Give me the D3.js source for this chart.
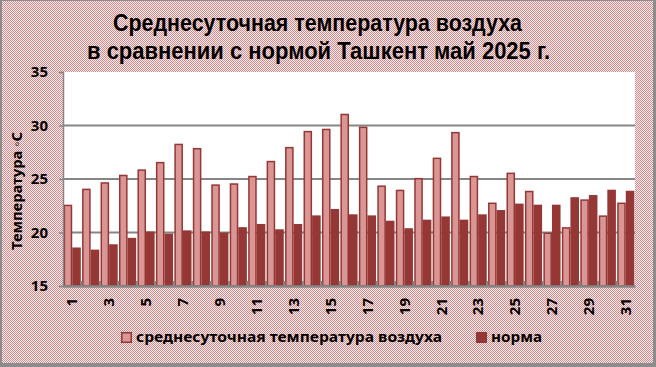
<!DOCTYPE html>
<html><head><meta charset="utf-8">
<script src="https://cdn.jsdelivr.net/npm/d3@7"></script>
<style>html,body{margin:0;padding:0;background:#fff}svg{display:block}</style>
</head><body><svg id="c" width="656" height="367"></svg>
<script>
const days = d3.range(1, 32).map(String);
const actual = [22.6,24.1,24.7,25.4,25.9,26.6,28.3,27.9,24.5,24.6,25.3,26.7,28.0,29.5,29.7,31.1,29.9,24.4,24.0,25.1,27.0,29.4,25.3,22.8,25.6,23.9,20.0,20.5,23.1,21.6,22.8];
const norm = [18.6,18.4,18.9,19.5,20.1,19.9,20.2,20.1,20.0,20.5,20.8,20.3,20.8,21.6,22.2,21.7,21.6,21.1,20.4,21.2,21.5,21.2,21.7,22.1,22.7,22.6,22.6,23.3,23.5,24.0,23.9];
const series = ["среднесуточная температура воздуха", "норма"];
const yTicks = [15, 20, 25, 30, 35];
const titleLines = ["Среднесуточная температура воздуха", "в сравнении с нормой Ташкент май 2025 г."];
const yTitle = "Температура ◦С";

const svg = d3.select("#c");
const font = "'Noto Sans', 'Open Sans', sans-serif";
const tfont = "'Liberation Sans', Arial, sans-serif";
const defs = svg.append("defs");
const pat = defs.append("pattern").attr("id","bg").attr("width",2).attr("height",2).attr("patternUnits","userSpaceOnUse");
pat.append("rect").attr("width",2).attr("height",2).attr("fill","#fbeeee");
pat.append("rect").attr("width",1).attr("height",1).attr("fill","#d6898a");
pat.append("rect").attr("x",1).attr("y",1).attr("width",1).attr("height",1).attr("fill","#d6898a");

svg.append("rect").attr("width",656).attr("height",367).attr("fill","url(#bg)");
// frame
svg.append("rect").attr("x",0).attr("y",0).attr("width",2).attr("height",367).attr("fill","#8c8c8c");
svg.append("rect").attr("x",0).attr("y",363).attr("width",656).attr("height",4).attr("fill","#8c8c8c");
svg.append("rect").attr("x",653).attr("y",0).attr("width",3).attr("height",367).attr("fill","#8c8c8c");
svg.append("rect").attr("x",0).attr("y",0).attr("width",656).attr("height",1).attr("fill","#8c8c8c");

const L = 63, R = 635, T = 72, B = 286;
const x = d3.scaleBand().domain(days).range([L, R]).paddingInner(0.07).paddingOuter(0.035);
const xs = d3.scaleBand().domain(series).range([0, x.bandwidth()]);
const y = d3.scaleLinear().domain([15, 35]).range([B, T]);

svg.append("rect").attr("x",L).attr("y",T).attr("width",R-L).attr("height",B-T).attr("fill","#fff");

// gridlines
svg.append("g").selectAll("line").data(yTicks.filter(t => t > 15 && t < 35)).join("line")
  .attr("x1",L).attr("x2",R).attr("y1",d=>y(d)).attr("y2",d=>y(d))
  .attr("stroke","#868686").attr("stroke-width",2);

// bars
const g = svg.append("g");
g.selectAll("rect.a").data(actual).join("rect").attr("class","a")
  .attr("x",(d,i)=>x(days[i])+xs(series[0])+0.75)
  .attr("width",xs.bandwidth()-1.5)
  .attr("y",d=>y(d)+0.75)
  .attr("height",d=>B-y(d)-0.75)
  .attr("fill","#d99694").attr("stroke","#953735").attr("stroke-width",1.5);
g.selectAll("rect.n").data(norm).join("rect").attr("class","n")
  .attr("x",(d,i)=>x(days[i])+xs(series[1]))
  .attr("width",xs.bandwidth())
  .attr("y",d=>y(d))
  .attr("height",d=>B-y(d))
  .attr("fill","#953735");

// y axis
const ya = svg.append("g").attr("transform",`translate(${L},0)`)
  .call(d3.axisLeft(y).tickValues(yTicks).tickSize(4).tickPadding(11).tickFormat(d3.format("d")));
ya.select(".domain").attr("stroke","#868686").attr("stroke-width",1.5);
ya.selectAll(".tick line").attr("stroke","#868686").attr("stroke-width",1.5);
ya.selectAll("text").attr("font-family",font).attr("font-weight","bold").attr("font-size",15).attr("fill","#000");

// x axis
const xa = svg.append("g").attr("transform",`translate(0,${B})`)
  .call(d3.axisBottom(x).tickSize(0).tickFormat((d,i)=> i % 2 === 0 ? d : ""));
xa.select(".domain").attr("stroke","#868686").attr("stroke-width",2.5);
xa.selectAll("text").attr("font-family",font).attr("font-weight","bold").attr("font-size",15).attr("fill","#000")
  .attr("transform","rotate(-90)").attr("text-anchor","end").attr("x",-12).attr("y",0).attr("dy","0.35em");
// category separator ticks (inward)
svg.append("g").selectAll("line").data(days.slice(1)).join("line")
  .attr("x1",d=>x(d)-x.step()*x.paddingInner()/2).attr("x2",d=>x(d)-x.step()*x.paddingInner()/2)
  .attr("y1",B).attr("y2",B-5).attr("stroke","#868686").attr("stroke-width",2);

// title
const tw = [409, 463];
svg.append("g").selectAll("text").data(titleLines).join("text")
  .attr("x",(d,i)=> i===0 ? 113 : 87).attr("y",(d,i)=>31 + i*27.5)
  .attr("textLength",(d,i)=>tw[i]).attr("lengthAdjust","spacingAndGlyphs")
  .attr("font-family",tfont).attr("font-weight","bold").attr("font-size",23).attr("fill","#000")
  .text(d=>d);

// y title
svg.append("text").attr("transform","translate(22,191) rotate(-90)")
  .attr("text-anchor","middle").attr("textLength",118).attr("lengthAdjust","spacingAndGlyphs")
  .attr("font-family",font).attr("font-weight","bold").attr("font-size",15).attr("fill","#000")
  .text(yTitle);

// legend
const lg = svg.append("g");
const legItems = [{x:121, w:306, fill:"#d99694", stroke:"#953735"},{x:476, w:51, fill:"#953735", stroke:"#953735"}];
legItems.forEach((it,i)=>{
  lg.append("rect").attr("x",it.x+0.75).attr("y",332.75).attr("width",9.5).attr("height",9.5)
    .attr("fill",it.fill).attr("stroke",it.stroke).attr("stroke-width",1.5);
  lg.append("text").attr("x",it.x+15).attr("y",342).attr("textLength",it.w).attr("lengthAdjust","spacingAndGlyphs")
    .attr("font-family",font).attr("font-weight","bold").attr("font-size",15).attr("fill","#000").text(series[i]);
});
</script></body></html>
